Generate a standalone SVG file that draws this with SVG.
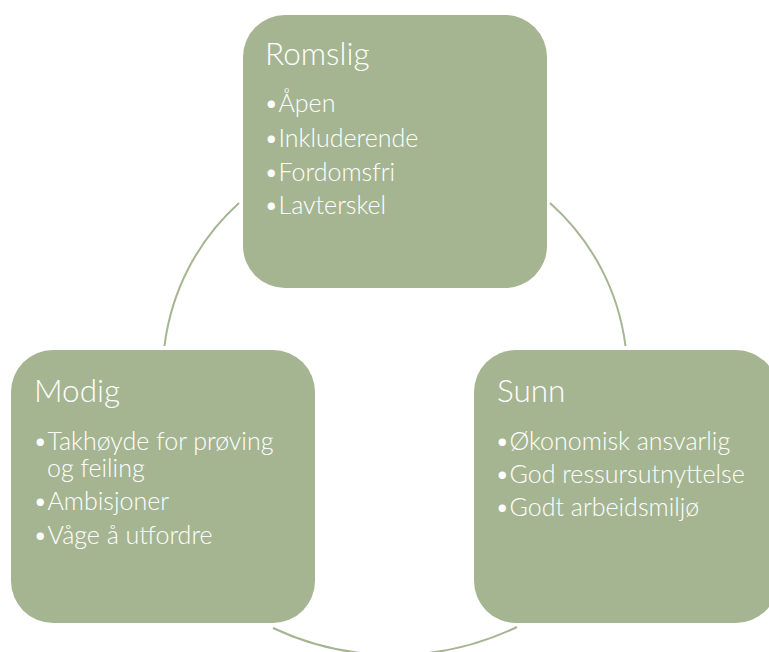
<svg xmlns="http://www.w3.org/2000/svg" width="769" height="652" viewBox="0 0 769 652">
<style>
.box{fill:#A5B592}
.conn{fill:none;stroke:#A5B592;stroke-width:2}
.title{font-family:Lato,"Open Sans",sans-serif;font-weight:300;font-size:31.5px;fill:#fff}
.item{font-family:Lato,"Open Sans",sans-serif;font-weight:300;font-size:25px;fill:#fff}
</style>
<rect width="769" height="652" fill="#fff"/>
<g id="connectors">
<path class="conn" d="M239,203 A230,230 0 0,0 164.5,346"/>
<path class="conn" d="M550,203 A230,230 0 0,1 625.5,346"/>
<path class="conn" d="M517,627 A284,284 0 0,1 273,628"/>
</g>
<g id="romslig">
<rect class="box" x="243" y="15" width="304" height="273" rx="42"/>
<text class="title" x="265" y="65">Romslig</text>
<text class="item" x="264" y="112">•Åpen</text>
<text class="item" x="264" y="147">•Inkluderende</text>
<text class="item" x="264" y="181">•Fordomsfri</text>
<text class="item" x="264" y="214">•Lavterskel</text>
</g>
<g id="modig">
<rect class="box" x="11" y="350" width="304" height="273" rx="42"/>
<text class="title" x="34" y="402">Modig</text>
<text class="item"><tspan x="33" y="450">•Takhøyde for prøving</tspan><tspan x="47" y="477">og feiling</tspan></text>
<text class="item" x="33" y="510">•Ambisjoner</text>
<text class="item" x="33" y="544">•Våge å utfordre</text>
</g>
<g id="sunn">
<rect class="box" x="474" y="350" width="304" height="273" rx="42"/>
<text class="title" x="497" y="402">Sunn</text>
<text class="item" x="495" y="450">•Økonomisk ansvarlig</text>
<text class="item" x="495" y="483">•God ressursutnyttelse</text>
<text class="item" x="495" y="516">•Godt arbeidsmiljø</text>
</g>
</svg>
